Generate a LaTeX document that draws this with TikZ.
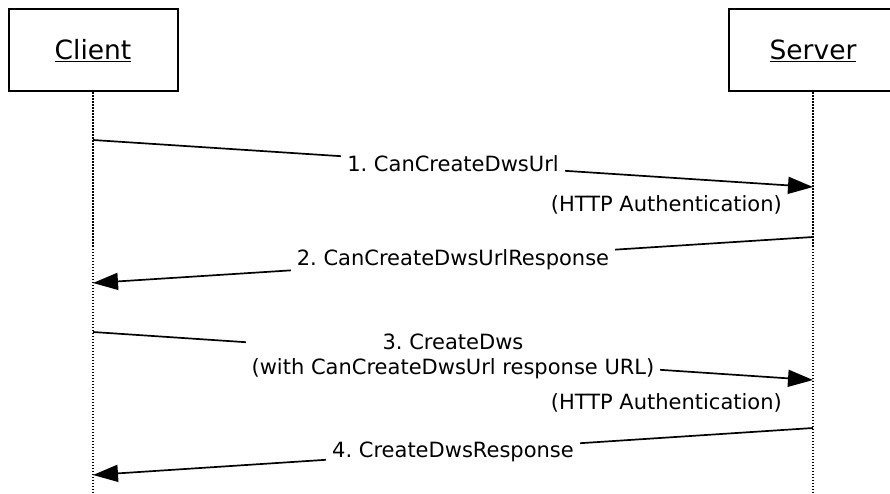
\documentclass[tikz,border=0pt]{standalone}
\usepackage{fontspec}
\setmainfont{DejaVu Sans}
\usepackage{tikz}
\usepackage{xcolor}
\usetikzlibrary{calc,positioning,arrows.meta}
\frenchspacing

\tikzset{
    actor/.style={draw, line width=2pt, fill=white, minimum width=169pt, minimum height=82pt, font=\fontsize{26.5}{32}\selectfont},
    lifeline/.style={line width=1.4pt, dash pattern=on 1.4pt off 1.6pt},
    msgline/.style={line width=1.7pt, -{Triangle[length=25pt,width=17pt]}},
    msglabel/.style={fill=white, inner xsep=6pt, inner ysep=2pt, align=center, font=\fontsize{21}{25}\selectfont},
    note/.style={font=\fontsize{21}{25}\selectfont, inner sep=0pt, anchor=east}
}

\begin{document}
\begin{tikzpicture}[x=1pt, y=-1pt]
        \useasboundingbox (0,0) rectangle (890,494);
        \node[actor] (client) at (93,50.5) {\underline{Client}};
        \node[actor] (server) at (813,50.5) {\underline{Server}};
        \coordinate (cbot) at (93,494);
        \coordinate (sbot) at (813,494);
        \draw[lifeline] (client.south) -- (cbot);
        \draw[lifeline] (server.south) -- (sbot);

        \coordinate (c1) at (93,140);  \coordinate (s1) at (813,187);
        \coordinate (s2) at (813,237); \coordinate (c2) at (93,283);
        \coordinate (c3) at (93,332);  \coordinate (s3) at (813,380);
        \coordinate (s4) at (813,428); \coordinate (c4) at (93,475);

        \draw[msgline] (c1) -- node[msglabel] (m1) {1. CanCreateDwsUrl} (s1);
        \node[note] (auth1) at ($(s1)+(-31,18)$) {(HTTP Authentication)};
        \draw[msgline] (s2) -- node[msglabel] (m2) {2. CanCreateDwsUrlResponse} (c2);
        \draw[msgline] (c3) -- node[msglabel] (m3) {3. CreateDws\\(with CanCreateDwsUrl response URL)} (s3);
        \node[note] (auth2) at ($(s3)+(-31,23)$) {(HTTP Authentication)};
        \draw[msgline] (s4) -- node[msglabel] (m4) {4. CreateDwsResponse} (c4);
    \end{tikzpicture}
\end{document}
